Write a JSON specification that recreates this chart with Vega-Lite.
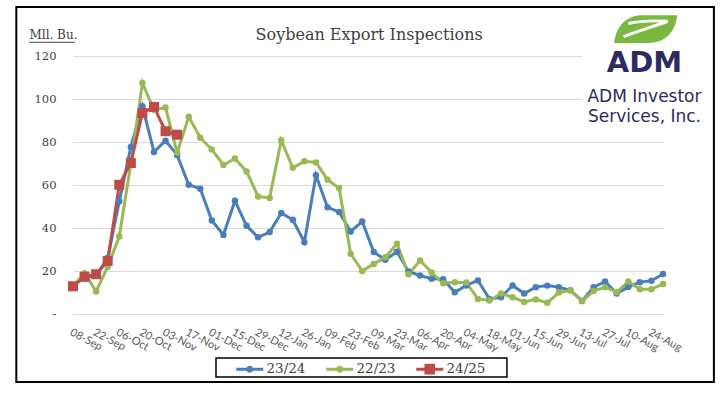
{
  "$schema": "https://vega.github.io/schema/vega-lite/v6.json",
  "autosize": {"type": "none"},
  "padding": {"left": 73, "top": 56, "right": 65, "bottom": 80},
  "width": 590,
  "height": 258,
  "background": "white",
  "config": {"view": {"stroke": null}, "axis": {"labelOverlap": false}},
  "data": {
    "values": [
      {"season": "23/24", "i": 0, "week": "08-Sep", "bu": 13.5},
      {"season": "23/24", "i": 1, "week": "15-Sep", "bu": 17},
      {"season": "23/24", "i": 2, "week": "22-Sep", "bu": 18},
      {"season": "23/24", "i": 3, "week": "29-Sep", "bu": 26},
      {"season": "23/24", "i": 4, "week": "06-Oct", "bu": 52.4},
      {"season": "23/24", "i": 5, "week": "13-Oct", "bu": 77.7},
      {"season": "23/24", "i": 6, "week": "20-Oct", "bu": 96.6},
      {"season": "23/24", "i": 7, "week": "27-Oct", "bu": 75.4},
      {"season": "23/24", "i": 8, "week": "03-Nov", "bu": 80.6},
      {"season": "23/24", "i": 9, "week": "10-Nov", "bu": 74},
      {"season": "23/24", "i": 10, "week": "17-Nov", "bu": 60.1},
      {"season": "23/24", "i": 11, "week": "24-Nov", "bu": 58.3},
      {"season": "23/24", "i": 12, "week": "01-Dec", "bu": 43.5},
      {"season": "23/24", "i": 13, "week": "08-Dec", "bu": 36.8},
      {"season": "23/24", "i": 14, "week": "15-Dec", "bu": 52.7},
      {"season": "23/24", "i": 15, "week": "22-Dec", "bu": 41},
      {"season": "23/24", "i": 16, "week": "29-Dec", "bu": 35.7},
      {"season": "23/24", "i": 17, "week": "05-Jan", "bu": 38.1},
      {"season": "23/24", "i": 18, "week": "12-Jan", "bu": 47},
      {"season": "23/24", "i": 19, "week": "19-Jan", "bu": 43.8},
      {"season": "23/24", "i": 20, "week": "26-Jan", "bu": 33.4},
      {"season": "23/24", "i": 21, "week": "02-Feb", "bu": 64.5},
      {"season": "23/24", "i": 22, "week": "09-Feb", "bu": 49.7},
      {"season": "23/24", "i": 23, "week": "16-Feb", "bu": 47.4},
      {"season": "23/24", "i": 24, "week": "23-Feb", "bu": 38.4},
      {"season": "23/24", "i": 25, "week": "02-Mar", "bu": 43},
      {"season": "23/24", "i": 26, "week": "09-Mar", "bu": 28.8},
      {"season": "23/24", "i": 27, "week": "16-Mar", "bu": 25.2},
      {"season": "23/24", "i": 28, "week": "23-Mar", "bu": 29},
      {"season": "23/24", "i": 29, "week": "30-Mar", "bu": 19.8},
      {"season": "23/24", "i": 30, "week": "06-Apr", "bu": 17.9},
      {"season": "23/24", "i": 31, "week": "13-Apr", "bu": 16.4},
      {"season": "23/24", "i": 32, "week": "20-Apr", "bu": 16.2},
      {"season": "23/24", "i": 33, "week": "27-Apr", "bu": 10.1},
      {"season": "23/24", "i": 34, "week": "04-May", "bu": 13.3},
      {"season": "23/24", "i": 35, "week": "11-May", "bu": 15.6},
      {"season": "23/24", "i": 36, "week": "18-May", "bu": 7},
      {"season": "23/24", "i": 37, "week": "25-May", "bu": 7.8},
      {"season": "23/24", "i": 38, "week": "01-Jun", "bu": 13.3},
      {"season": "23/24", "i": 39, "week": "08-Jun", "bu": 9.5},
      {"season": "23/24", "i": 40, "week": "15-Jun", "bu": 12.5},
      {"season": "23/24", "i": 41, "week": "22-Jun", "bu": 13.2},
      {"season": "23/24", "i": 42, "week": "29-Jun", "bu": 12.5},
      {"season": "23/24", "i": 43, "week": "06-Jul", "bu": 11},
      {"season": "23/24", "i": 44, "week": "13-Jul", "bu": 6.1},
      {"season": "23/24", "i": 45, "week": "20-Jul", "bu": 12.5},
      {"season": "23/24", "i": 46, "week": "27-Jul", "bu": 15.1},
      {"season": "23/24", "i": 47, "week": "03-Aug", "bu": 9.5},
      {"season": "23/24", "i": 48, "week": "10-Aug", "bu": 12.6},
      {"season": "23/24", "i": 49, "week": "17-Aug", "bu": 14.8},
      {"season": "23/24", "i": 50, "week": "24-Aug", "bu": 15.5},
      {"season": "23/24", "i": 51, "week": "31-Aug", "bu": 18.6},
      {"season": "22/23", "i": 0, "week": "08-Sep", "bu": 13},
      {"season": "22/23", "i": 1, "week": "15-Sep", "bu": 19},
      {"season": "22/23", "i": 2, "week": "22-Sep", "bu": 10.5},
      {"season": "22/23", "i": 3, "week": "29-Sep", "bu": 22},
      {"season": "22/23", "i": 4, "week": "06-Oct", "bu": 36},
      {"season": "22/23", "i": 5, "week": "13-Oct", "bu": 70},
      {"season": "22/23", "i": 6, "week": "20-Oct", "bu": 107.5},
      {"season": "22/23", "i": 7, "week": "27-Oct", "bu": 95},
      {"season": "22/23", "i": 8, "week": "03-Nov", "bu": 96},
      {"season": "22/23", "i": 9, "week": "10-Nov", "bu": 75},
      {"season": "22/23", "i": 10, "week": "17-Nov", "bu": 91.7},
      {"season": "22/23", "i": 11, "week": "24-Nov", "bu": 82},
      {"season": "22/23", "i": 12, "week": "01-Dec", "bu": 76.5},
      {"season": "22/23", "i": 13, "week": "08-Dec", "bu": 69.3},
      {"season": "22/23", "i": 14, "week": "15-Dec", "bu": 72.3},
      {"season": "22/23", "i": 15, "week": "22-Dec", "bu": 66.3},
      {"season": "22/23", "i": 16, "week": "29-Dec", "bu": 54.7},
      {"season": "22/23", "i": 17, "week": "05-Jan", "bu": 54},
      {"season": "22/23", "i": 18, "week": "12-Jan", "bu": 80.8},
      {"season": "22/23", "i": 19, "week": "19-Jan", "bu": 68},
      {"season": "22/23", "i": 20, "week": "26-Jan", "bu": 71},
      {"season": "22/23", "i": 21, "week": "02-Feb", "bu": 70.5},
      {"season": "22/23", "i": 22, "week": "09-Feb", "bu": 62.5},
      {"season": "22/23", "i": 23, "week": "16-Feb", "bu": 58.6},
      {"season": "22/23", "i": 24, "week": "23-Feb", "bu": 28},
      {"season": "22/23", "i": 25, "week": "02-Mar", "bu": 20},
      {"season": "22/23", "i": 26, "week": "09-Mar", "bu": 23.3},
      {"season": "22/23", "i": 27, "week": "16-Mar", "bu": 26.4},
      {"season": "22/23", "i": 28, "week": "23-Mar", "bu": 32.7},
      {"season": "22/23", "i": 29, "week": "30-Mar", "bu": 18.5},
      {"season": "22/23", "i": 30, "week": "06-Apr", "bu": 24.9},
      {"season": "22/23", "i": 31, "week": "13-Apr", "bu": 19.3},
      {"season": "22/23", "i": 32, "week": "20-Apr", "bu": 14.3},
      {"season": "22/23", "i": 33, "week": "27-Apr", "bu": 14.8},
      {"season": "22/23", "i": 34, "week": "04-May", "bu": 14.6},
      {"season": "22/23", "i": 35, "week": "11-May", "bu": 7},
      {"season": "22/23", "i": 36, "week": "18-May", "bu": 6.3},
      {"season": "22/23", "i": 37, "week": "25-May", "bu": 9.5},
      {"season": "22/23", "i": 38, "week": "01-Jun", "bu": 7.8},
      {"season": "22/23", "i": 39, "week": "08-Jun", "bu": 5.6},
      {"season": "22/23", "i": 40, "week": "15-Jun", "bu": 6.8},
      {"season": "22/23", "i": 41, "week": "22-Jun", "bu": 5.2},
      {"season": "22/23", "i": 42, "week": "29-Jun", "bu": 10},
      {"season": "22/23", "i": 43, "week": "06-Jul", "bu": 11},
      {"season": "22/23", "i": 44, "week": "13-Jul", "bu": 6.1},
      {"season": "22/23", "i": 45, "week": "20-Jul", "bu": 10.7},
      {"season": "22/23", "i": 46, "week": "27-Jul", "bu": 12.5},
      {"season": "22/23", "i": 47, "week": "03-Aug", "bu": 10.1},
      {"season": "22/23", "i": 48, "week": "10-Aug", "bu": 15.1},
      {"season": "22/23", "i": 49, "week": "17-Aug", "bu": 11.5},
      {"season": "22/23", "i": 50, "week": "24-Aug", "bu": 11.5},
      {"season": "22/23", "i": 51, "week": "31-Aug", "bu": 14},
      {"season": "24/25", "i": 0, "week": "08-Sep", "bu": 12.9},
      {"season": "24/25", "i": 1, "week": "15-Sep", "bu": 17.3},
      {"season": "24/25", "i": 2, "week": "22-Sep", "bu": 18.5},
      {"season": "24/25", "i": 3, "week": "29-Sep", "bu": 24.7},
      {"season": "24/25", "i": 4, "week": "06-Oct", "bu": 60.1},
      {"season": "24/25", "i": 5, "week": "13-Oct", "bu": 70.2},
      {"season": "24/25", "i": 6, "week": "20-Oct", "bu": 93.5},
      {"season": "24/25", "i": 7, "week": "27-Oct", "bu": 96.3},
      {"season": "24/25", "i": 8, "week": "03-Nov", "bu": 85},
      {"season": "24/25", "i": 9, "week": "10-Nov", "bu": 83.4}
    ]
  },
  "layer": [
    {
      "encoding": {
        "x": {
          "field": "i",
          "type": "quantitative",
          "scale": {"domain": [0, 51], "nice": false, "zero": false},
          "axis": {"title": null, "values": [0, 2, 4, 6, 8, 10, 12, 14, 16, 18, 20, 22, 24, 26, 28, 30, 32, 34, 36, 38, 40, 42, 44, 46, 48, 50], "labelExpr": "['08-Sep','22-Sep','06-Oct','20-Oct','03-Nov','17-Nov','01-Dec','15-Dec','29-Dec','12-Jan','26-Jan','09-Feb','23-Feb','09-Mar','23-Mar','06-Apr','20-Apr','04-May','18-May','01-Jun','15-Jun','29-Jun','13-Jul','27-Jul','10-Aug','24-Aug'][round(datum.value / 2)]", "labelAngle": 28, "labelAlign": "left", "labelBaseline": "top", "labelPadding": 12, "labelFont": "Lato", "labelFontSize": 11, "labelColor": "#595959", "labelOverlap": false, "labelFlush": false, "labelBound": false, "domain": false, "ticks": false, "grid": false}
        },
        "y": {
          "field": "bu",
          "type": "quantitative",
          "scale": {"domain": [0, 120], "nice": false, "zero": true},
          "axis": {"title": "Mll. Bu.", "titleAngle": 0, "titleAlign": "left", "titleBaseline": "alphabetic", "titleX": -44, "titleY": -18, "titleFont": "DejaVu Serif", "titleFontSize": 12, "titleFontWeight": "normal", "titleColor": "#404040", "values": [0, 20, 40, 60, 80, 100, 120], "labelExpr": "datum.value == 0 ? '-' : datum.label", "labelFont": "DejaVu Serif", "labelFontSize": 11.5, "labelColor": "#404040", "labelPadding": 17, "domain": false, "ticks": false, "grid": true, "gridColor": "#d9d9d9", "gridWidth": 1}
        },
        "color": {
          "field": "season",
          "type": "nominal",
          "scale": {"domain": ["23/24", "22/23", "24/25"], "range": ["#4A7EBB", "#98B954", "#BE4B48"]},
          "legend": {"title": null, "orient": "none", "legendX": 143, "legendY": 303, "direction": "horizontal", "padding": 3, "symbolSize": 100, "symbolStrokeWidth": 0, "symbolOffset": 24, "labelOffset": 10, "columnPadding": 3, "labelFont": "DejaVu Serif", "labelFontSize": 13.5, "labelColor": "#404040"}
        }
      },
      "layer": [
        {"mark": {"type": "line", "strokeWidth": 3, "interpolate": "linear"}},
        {
          "transform": [{"filter": "datum.season != '24/25'"}],
          "mark": {"type": "point", "filled": true, "opacity": 1, "shape": "circle", "size": 42}
        },
        {
          "transform": [{"filter": "datum.season == '24/25'"}],
          "mark": {"type": "point", "filled": true, "opacity": 1, "shape": "square", "size": 100}
        },
        {
          "transform": [{"filter": "datum.bu < 0"}],
          "mark": {"type": "point", "filled": true, "opacity": 1, "strokeWidth": 0},
          "encoding": {
            "shape": {
              "field": "season",
              "type": "nominal",
              "scale": {
                "domain": ["23/24", "22/23", "24/25"],
                "range": [
                  "M-2.7,-0.3L2.7,-0.3L2.7,0.3L-2.7,0.3Z M0.7,0A0.7,0.7,0,1,1,-0.7,0A0.7,0.7,0,1,1,0.7,0Z",
                  "M-2.7,-0.3L2.7,-0.3L2.7,0.3L-2.7,0.3Z M0.7,0A0.7,0.7,0,1,1,-0.7,0A0.7,0.7,0,1,1,0.7,0Z",
                  "M-2.7,-0.3L2.7,-0.3L2.7,0.3L-2.7,0.3Z M-1.06,-1.06L1.06,-1.06L1.06,1.06L-1.06,1.06Z"
                ]
              },
              "legend": {"title": null, "orient": "none", "legendX": 143, "legendY": 303, "direction": "horizontal", "padding": 3, "symbolSize": 100, "symbolStrokeWidth": 0, "symbolOffset": 24, "labelOffset": 10, "columnPadding": 3, "labelFont": "DejaVu Serif", "labelFontSize": 13.5, "labelColor": "#404040"}
            }
          }
        }
      ]
    },
    {
      "data": {"values": [{}]},
      "mark": {"type": "rect", "fill": "white", "stroke": null},
      "encoding": {
        "x": {"datum": 44, "type": "quantitative", "axis": {"title": null, "values": [0, 2, 4, 6, 8, 10, 12, 14, 16, 18, 20, 22, 24, 26, 28, 30, 32, 34, 36, 38, 40, 42, 44, 46, 48, 50], "labelExpr": "['08-Sep','22-Sep','06-Oct','20-Oct','03-Nov','17-Nov','01-Dec','15-Dec','29-Dec','12-Jan','26-Jan','09-Feb','23-Feb','09-Mar','23-Mar','06-Apr','20-Apr','04-May','18-May','01-Jun','15-Jun','29-Jun','13-Jul','27-Jul','10-Aug','24-Aug'][round(datum.value / 2)]", "labelAngle": 28, "labelAlign": "left", "labelBaseline": "top", "labelPadding": 12, "labelFont": "Lato", "labelFontSize": 11, "labelColor": "#595959", "labelOverlap": false, "labelFlush": false, "labelBound": false, "domain": false, "ticks": false, "grid": false}},
        "x2": {"datum": 55},
        "y": {"datum": 86, "type": "quantitative"},
        "y2": {"datum": 142}
      }
    },
    {
      "data": {"values": [{}]},
      "mark": {"type": "rect", "fill": null, "fillOpacity": 0, "stroke": "black", "strokeWidth": 1.5},
      "encoding": {
        "x": {"datum": 12.36, "type": "quantitative", "axis": {"title": null, "values": [0, 2, 4, 6, 8, 10, 12, 14, 16, 18, 20, 22, 24, 26, 28, 30, 32, 34, 36, 38, 40, 42, 44, 46, 48, 50], "labelExpr": "['08-Sep','22-Sep','06-Oct','20-Oct','03-Nov','17-Nov','01-Dec','15-Dec','29-Dec','12-Jan','26-Jan','09-Feb','23-Feb','09-Mar','23-Mar','06-Apr','20-Apr','04-May','18-May','01-Jun','15-Jun','29-Jun','13-Jul','27-Jul','10-Aug','24-Aug'][round(datum.value / 2)]", "labelAngle": 28, "labelAlign": "left", "labelBaseline": "top", "labelPadding": 12, "labelFont": "Lato", "labelFontSize": 11, "labelColor": "#595959", "labelOverlap": false, "labelFlush": false, "labelBound": false, "domain": false, "ticks": false, "grid": false}},
        "x2": {"datum": 37.51},
        "y": {"datum": -20.47, "type": "quantitative"},
        "y2": {"datum": -29.3}
      }
    },
    {
      "data": {"values": [{}]},
      "mark": {"type": "text", "text": "Soybean Export Inspections", "font": "DejaVu Serif", "fontSize": 16, "color": "#404040", "align": "center", "baseline": "alphabetic"},
      "encoding": {
        "x": {"datum": 25.6, "type": "quantitative", "axis": {"title": null, "values": [0, 2, 4, 6, 8, 10, 12, 14, 16, 18, 20, 22, 24, 26, 28, 30, 32, 34, 36, 38, 40, 42, 44, 46, 48, 50], "labelExpr": "['08-Sep','22-Sep','06-Oct','20-Oct','03-Nov','17-Nov','01-Dec','15-Dec','29-Dec','12-Jan','26-Jan','09-Feb','23-Feb','09-Mar','23-Mar','06-Apr','20-Apr','04-May','18-May','01-Jun','15-Jun','29-Jun','13-Jul','27-Jul','10-Aug','24-Aug'][round(datum.value / 2)]", "labelAngle": 28, "labelAlign": "left", "labelBaseline": "top", "labelPadding": 12, "labelFont": "Lato", "labelFontSize": 11, "labelColor": "#595959", "labelOverlap": false, "labelFlush": false, "labelBound": false, "domain": false, "ticks": false, "grid": false}},
        "y": {"datum": 127.4, "type": "quantitative"}
      }
    },
    {
      "data": {"values": [{}]},
      "mark": {"type": "point", "filled": true, "opacity": 1, "fill": "#7AB940", "strokeWidth": 0, "size": 3969,
        "shape": "M -0.1 -0.44 L 1 -0.44 C 0.95 0.1 0.6 0.44 0.1 0.44 L -1 0.44 C -0.95 -0.1 -0.6 -0.44 -0.1 -0.44 Z"},
      "encoding": {
        "x": {"datum": 49.5, "type": "quantitative", "axis": {"title": null, "values": [0, 2, 4, 6, 8, 10, 12, 14, 16, 18, 20, 22, 24, 26, 28, 30, 32, 34, 36, 38, 40, 42, 44, 46, 48, 50], "labelExpr": "['08-Sep','22-Sep','06-Oct','20-Oct','03-Nov','17-Nov','01-Dec','15-Dec','29-Dec','12-Jan','26-Jan','09-Feb','23-Feb','09-Mar','23-Mar','06-Apr','20-Apr','04-May','18-May','01-Jun','15-Jun','29-Jun','13-Jul','27-Jul','10-Aug','24-Aug'][round(datum.value / 2)]", "labelAngle": 28, "labelAlign": "left", "labelBaseline": "top", "labelPadding": 12, "labelFont": "Lato", "labelFontSize": 11, "labelColor": "#595959", "labelOverlap": false, "labelFlush": false, "labelBound": false, "domain": false, "ticks": false, "grid": false}},
        "y": {"datum": 132.5, "type": "quantitative"}
      }
    },
    {
      "data": {"values": [{}]},
      "mark": {"type": "point", "filled": false, "opacity": 1, "stroke": "white", "strokeWidth": 3, "size": 3969,
        "shape": "M -0.55 -0.18 C -0.2 -0.26 0.35 -0.27 0.7 -0.25 C 0.3 -0.1 -0.3 0.08 -0.7 0.24"},
      "encoding": {
        "x": {"datum": 49.5, "type": "quantitative", "axis": {"title": null, "values": [0, 2, 4, 6, 8, 10, 12, 14, 16, 18, 20, 22, 24, 26, 28, 30, 32, 34, 36, 38, 40, 42, 44, 46, 48, 50], "labelExpr": "['08-Sep','22-Sep','06-Oct','20-Oct','03-Nov','17-Nov','01-Dec','15-Dec','29-Dec','12-Jan','26-Jan','09-Feb','23-Feb','09-Mar','23-Mar','06-Apr','20-Apr','04-May','18-May','01-Jun','15-Jun','29-Jun','13-Jul','27-Jul','10-Aug','24-Aug'][round(datum.value / 2)]", "labelAngle": 28, "labelAlign": "left", "labelBaseline": "top", "labelPadding": 12, "labelFont": "Lato", "labelFontSize": 11, "labelColor": "#595959", "labelOverlap": false, "labelFlush": false, "labelBound": false, "domain": false, "ticks": false, "grid": false}},
        "y": {"datum": 132.5, "type": "quantitative"}
      }
    },
    {
      "data": {"values": [{}]},
      "mark": {"type": "text", "text": "ADM", "font": "DejaVu Sans", "fontWeight": "bold", "fontSize": 29, "color": "#2D2B5F", "align": "center", "baseline": "alphabetic"},
      "encoding": {
        "x": {"datum": 49.4, "type": "quantitative", "axis": {"title": null, "values": [0, 2, 4, 6, 8, 10, 12, 14, 16, 18, 20, 22, 24, 26, 28, 30, 32, 34, 36, 38, 40, 42, 44, 46, 48, 50], "labelExpr": "['08-Sep','22-Sep','06-Oct','20-Oct','03-Nov','17-Nov','01-Dec','15-Dec','29-Dec','12-Jan','26-Jan','09-Feb','23-Feb','09-Mar','23-Mar','06-Apr','20-Apr','04-May','18-May','01-Jun','15-Jun','29-Jun','13-Jul','27-Jul','10-Aug','24-Aug'][round(datum.value / 2)]", "labelAngle": 28, "labelAlign": "left", "labelBaseline": "top", "labelPadding": 12, "labelFont": "Lato", "labelFontSize": 11, "labelColor": "#595959", "labelOverlap": false, "labelFlush": false, "labelBound": false, "domain": false, "ticks": false, "grid": false}},
        "y": {"datum": 112.6, "type": "quantitative"}
      }
    },
    {
      "data": {"values": [{}]},
      "mark": {"type": "text", "text": ["ADM Investor", "Services, Inc."], "lineHeight": 20, "font": "DejaVu Sans", "fontSize": 17, "color": "#2D2B5F", "align": "center", "baseline": "alphabetic"},
      "encoding": {
        "x": {"datum": 49.4, "type": "quantitative", "axis": {"title": null, "values": [0, 2, 4, 6, 8, 10, 12, 14, 16, 18, 20, 22, 24, 26, 28, 30, 32, 34, 36, 38, 40, 42, 44, 46, 48, 50], "labelExpr": "['08-Sep','22-Sep','06-Oct','20-Oct','03-Nov','17-Nov','01-Dec','15-Dec','29-Dec','12-Jan','26-Jan','09-Feb','23-Feb','09-Mar','23-Mar','06-Apr','20-Apr','04-May','18-May','01-Jun','15-Jun','29-Jun','13-Jul','27-Jul','10-Aug','24-Aug'][round(datum.value / 2)]", "labelAngle": 28, "labelAlign": "left", "labelBaseline": "top", "labelPadding": 12, "labelFont": "Lato", "labelFontSize": 11, "labelColor": "#595959", "labelOverlap": false, "labelFlush": false, "labelBound": false, "domain": false, "ticks": false, "grid": false}},
        "y": {"datum": 98.7, "type": "quantitative"}
      }
    },
    {
      "data": {"values": [{}]},
      "mark": {"type": "rule", "stroke": "#404040", "strokeWidth": 1},
      "encoding": {
        "x": {"datum": -3.8, "type": "quantitative", "axis": {"title": null, "values": [0, 2, 4, 6, 8, 10, 12, 14, 16, 18, 20, 22, 24, 26, 28, 30, 32, 34, 36, 38, 40, 42, 44, 46, 48, 50], "labelExpr": "['08-Sep','22-Sep','06-Oct','20-Oct','03-Nov','17-Nov','01-Dec','15-Dec','29-Dec','12-Jan','26-Jan','09-Feb','23-Feb','09-Mar','23-Mar','06-Apr','20-Apr','04-May','18-May','01-Jun','15-Jun','29-Jun','13-Jul','27-Jul','10-Aug','24-Aug'][round(datum.value / 2)]", "labelAngle": 28, "labelAlign": "left", "labelBaseline": "top", "labelPadding": 12, "labelFont": "Lato", "labelFontSize": 11, "labelColor": "#595959", "labelOverlap": false, "labelFlush": false, "labelBound": false, "domain": false, "ticks": false, "grid": false}},
        "x2": {"datum": 0.17},
        "y": {"datum": 126.4, "type": "quantitative"}
      }
    },
    {
      "data": {"values": [{}]},
      "mark": {"type": "rect", "fill": null, "fillOpacity": 0, "stroke": "black", "strokeWidth": 2},
      "encoding": {
        "x": {"datum": -4.9, "type": "quantitative", "axis": {"title": null, "values": [0, 2, 4, 6, 8, 10, 12, 14, 16, 18, 20, 22, 24, 26, 28, 30, 32, 34, 36, 38, 40, 42, 44, 46, 48, 50], "labelExpr": "['08-Sep','22-Sep','06-Oct','20-Oct','03-Nov','17-Nov','01-Dec','15-Dec','29-Dec','12-Jan','26-Jan','09-Feb','23-Feb','09-Mar','23-Mar','06-Apr','20-Apr','04-May','18-May','01-Jun','15-Jun','29-Jun','13-Jul','27-Jul','10-Aug','24-Aug'][round(datum.value / 2)]", "labelAngle": 28, "labelAlign": "left", "labelBaseline": "top", "labelPadding": 12, "labelFont": "Lato", "labelFontSize": 11, "labelColor": "#595959", "labelOverlap": false, "labelFlush": false, "labelBound": false, "domain": false, "ticks": false, "grid": false}},
        "x2": {"datum": 55.4},
        "y": {"datum": 142.8, "type": "quantitative"},
        "y2": {"datum": -31.6}
      }
    }
  ]
}
